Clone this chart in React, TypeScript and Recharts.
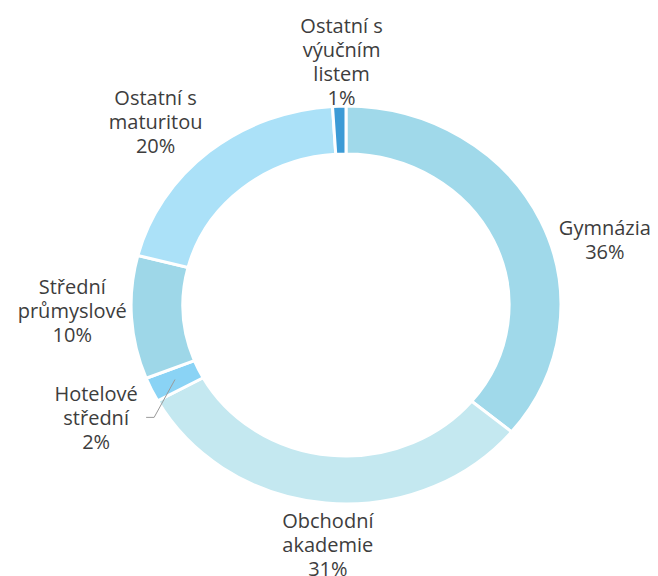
import React from "react";
import { PieChart, Pie, Cell } from "recharts";

const categories = [
  "Gymnázia",
  "Obchodní\nakademie",
  "Hotelové\nstřední",
  "Střední\nprůmyslové",
  "Ostatní s\nmaturitou",
  "Ostatní s\nvýučním\nlistem",
];
const shares = [36, 31, 2, 10, 20, 1];
const colors = ["#a0d9ea", "#c4e8f0", "#8ad3f5", "#9ed7e8", "#abe1f8", "#3c9bd6"];

const data = categories.map((name, i) => ({ name, value: shares[i] }));

const W = 658;
const H = 576;
const CX = 346;
const CY = 305;
const KX = 1.08; // horizontal stretch of the ring
const RAD = Math.PI / 180;
const LINE_H = 24;
const FONT = "'Open Sans', 'Noto Sans', sans-serif";

// label layout fine-tuning (px), by slice index
const labelNudge: [number, number][] = [
  [17, 40],
  [7, -7],
  [-8, 7],
  [-7, -10],
  [-20, 7],
  [4, 4],
];

const pt = (cx: number, cy: number, r: number, a: number): [number, number] => [
  cx + KX * r * Math.cos(a * RAD),
  cy - r * Math.sin(a * RAD),
];

const renderSlice = (p: any) => {
  const { cx, cy, innerRadius, outerRadius, startAngle, endAngle, fill } = p;
  const delta = Math.abs(startAngle - endAngle);
  const large = delta > 180 ? 1 : 0;
  const sweep = startAngle > endAngle ? 1 : 0;
  const [x1, y1] = pt(cx, cy, outerRadius, startAngle);
  const [x2, y2] = pt(cx, cy, outerRadius, endAngle);
  const [x3, y3] = pt(cx, cy, innerRadius, endAngle);
  const [x4, y4] = pt(cx, cy, innerRadius, startAngle);
  const d = [
    `M${x1},${y1}`,
    `A${KX * outerRadius},${outerRadius} 0 ${large} ${sweep} ${x2},${y2}`,
    `L${x3},${y3}`,
    `A${KX * innerRadius},${innerRadius} 0 ${large} ${1 - sweep} ${x4},${y4}`,
    "Z",
  ].join(" ");
  return <path d={d} fill={fill} stroke="#ffffff" strokeWidth={3} strokeLinejoin="miter" />;
};

const renderLabel = (p: any) => {
  const { cx, cy, midAngle, innerRadius, outerRadius, index, value, name } = p;
  const lines = String(name).split("\n").concat([`${value}%`]);
  const [bx, by] = pt(cx, cy, 1.25 * 198, midAngle);
  const [nx, ny] = labelNudge[index] || [0, 0];
  const x = bx + nx;
  const y = by + ny;
  const top = y - ((lines.length - 1) * LINE_H) / 2;
  let leader = null;
  if (index === 2) {
    const [sx, sy] = pt(cx, cy, (innerRadius + outerRadius) / 2, midAngle);
    leader = (
      <polyline
        points={`${sx},${sy} ${x + 58},${y} ${x + 50},${y}`}
        fill="none"
        stroke="#9a9a9a"
        strokeWidth={1}
      />
    );
  }
  return (
    <g key={`lbl-${index}`}>
      {leader}
      <text
        x={x}
        y={top}
        textAnchor="middle"
        fill="#3d3d3d"
        fontFamily={FONT}
        fontSize={20}
      >
        {lines.map((l, i) => (
          <tspan key={i} x={x} y={top + i * LINE_H} dominantBaseline="central">
            {l}
          </tspan>
        ))}
      </text>
    </g>
  );
};

export default function App() {
  return (
    <div style={{ position: "absolute", left: 0, top: 0, width: W, height: H }}>
      <PieChart width={W} height={H} margin={{ top: 0, right: 0, bottom: 0, left: 0 }}>
        <Pie
          data={data}
          dataKey="value"
          nameKey="name"
          cx={CX}
          cy={CY}
          innerRadius={151}
          outerRadius={199}
          startAngle={90}
          endAngle={-270}
          stroke="#ffffff"
          strokeWidth={3}
          shape={renderSlice}
          inactiveShape={renderSlice}
          activeShape={renderSlice}
          label={renderLabel}
          labelLine={false}
          isAnimationActive={false}
        >
          {data.map((d, i) => (
            <Cell key={d.name} fill={colors[i]} />
          ))}
        </Pie>
      </PieChart>
    </div>
  );
}
